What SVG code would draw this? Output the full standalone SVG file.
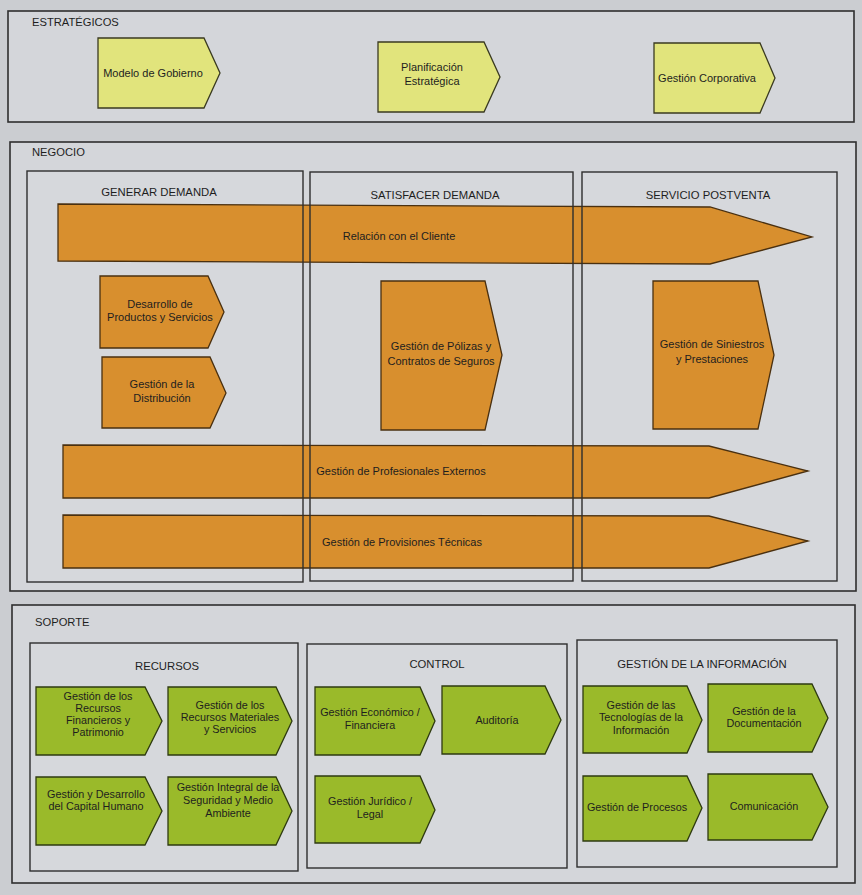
<svg xmlns="http://www.w3.org/2000/svg" width="862" height="895" viewBox="0 0 862 895">
  <style>
    .page { fill: #cbcdd1; }
    .frame { fill: #d4d6da; stroke: #2e2e2e; stroke-width: 1.6; }
    .lane { fill: none; stroke: #2e2e2e; stroke-width: 1.4; }
    .laneBg { fill: #d6d8dc; }
    .yellow { fill: #e1e47c; stroke: #3a3a20; stroke-width: 1.3; }
    .orange { fill: #d88f2e; stroke: #4a3010; stroke-width: 1.3; }
    .green { fill: #9aba2a; stroke: #2e3a10; stroke-width: 1.3; }
    text { font-family: "Liberation Sans", Arial, sans-serif; fill: #1e1e1e; }
    .sec { font-size: 11.2px; }
    .hdr { font-size: 11.3px; text-anchor: middle; }
    .lbl { font-size: 11px; text-anchor: middle; }
    .sm { font-size: 10.8px; text-anchor: middle; }
  </style>

  <rect class="page" x="0" y="0" width="862" height="895"/>

  <!-- Strategic layer -->
  <g id="estrategicos">
    <rect class="frame" x="8" y="11" width="846" height="111"/>
    <text class="sec" x="32" y="26">ESTRATÉGICOS</text>
  </g>
  <g id="modelo-gobierno">
    <polygon class="yellow" points="98,38 204,38 220,73 204,108 98,108"/>
    <text class="lbl" x="153" y="77">Modelo de Gobierno</text>
  </g>
  <g id="planificacion-estrategica">
    <polygon class="yellow" points="378,42 484,42 500,77 484,112 378,112"/>
    <text class="lbl" x="432" y="71">Planificación</text>
    <text class="lbl" x="432" y="85">Estratégica</text>
  </g>
  <g id="gestion-corporativa">
    <polygon class="yellow" points="654,43 760,43 775,78 760,113 654,113"/>
    <text class="lbl" x="707" y="82">Gestión Corporativa</text>
  </g>

  <!-- Business layer -->
  <g id="negocio">
    <rect class="frame" x="10" y="142" width="846" height="449"/>
    <text class="sec" x="32" y="156">NEGOCIO</text>
    <rect class="laneBg" x="27" y="171" width="276" height="411"/>
    <rect class="laneBg" x="310" y="172" width="263" height="409"/>
    <rect class="laneBg" x="582" y="172" width="255" height="409"/>
    <text class="hdr" x="159" y="196">GENERAR DEMANDA</text>
    <text class="hdr" x="435" y="199">SATISFACER DEMANDA</text>
    <text class="hdr" x="708" y="199">SERVICIO POSTVENTA</text>
  </g>

  <g id="relacion-cliente">
    <polygon class="orange" points="58,204 710,207 812,237 710,264 58,261"/>
    <text class="lbl" x="399" y="240">Relación con el Cliente</text>
  </g>
  <g id="desarrollo-productos">
    <polygon class="orange" points="100,276 208,276 224,312 208,348 100,348"/>
    <text class="lbl" x="160" y="308">Desarrollo de</text>
    <text class="lbl" x="160" y="321">Productos y Servicios</text>
  </g>
  <g id="gestion-distribucion">
    <polygon class="orange" points="102,357 210,357 226,393 210,428 102,428"/>
    <text class="lbl" x="162" y="388">Gestión de la</text>
    <text class="lbl" x="162" y="402">Distribución</text>
  </g>
  <g id="gestion-polizas">
    <polygon class="orange" points="381,281 485,281 502,355 485,430 381,430"/>
    <text class="lbl" x="441" y="350">Gestión de Pólizas y</text>
    <text class="lbl" x="441" y="365">Contratos de Seguros</text>
  </g>
  <g id="gestion-siniestros">
    <polygon class="orange" points="653,281 758,281 774,355 758,429 653,429"/>
    <text class="lbl" x="712" y="348">Gestión de Siniestros</text>
    <text class="lbl" x="712" y="363">y Prestaciones</text>
  </g>
  <g id="profesionales-externos">
    <polygon class="orange" points="63,445 709,446 808,471 709,498 63,498"/>
    <text class="lbl" x="401" y="475">Gestión de Profesionales Externos</text>
  </g>
  <g id="provisiones-tecnicas">
    <polygon class="orange" points="63,515 709,516 808,541 709,568 63,568"/>
    <text class="lbl" x="402" y="546">Gestión de Provisiones Técnicas</text>
  </g>

  <!-- Lane borders drawn over the long process arrows -->
  <g id="lanes">
    <rect class="lane" x="27" y="171" width="276" height="411"/>
    <rect class="lane" x="310" y="172" width="263" height="409"/>
    <rect class="lane" x="582" y="172" width="255" height="409"/>
  </g>

  <!-- Support layer -->
  <g id="soporte">
    <rect class="frame" x="12" y="605" width="843" height="278"/>
    <text class="sec" x="35" y="626">SOPORTE</text>
    <rect class="lane" x="30" y="643" width="268" height="228" style="fill:#d6d8dc"/>
    <rect class="lane" x="307" y="644" width="260" height="224" style="fill:#d6d8dc"/>
    <rect class="lane" x="577" y="640" width="260" height="227" style="fill:#d6d8dc"/>
    <text class="hdr" x="167" y="670">RECURSOS</text>
    <text class="hdr" x="437" y="668">CONTROL</text>
    <text class="hdr" x="702" y="668">GESTIÓN DE LA INFORMACIÓN</text>
  </g>

  <g id="recursos-financieros">
    <polygon class="green" points="36,687 145,687 162,721 145,755 36,755"/>
    <text class="sm" x="98" y="700">Gestión de los</text>
    <text class="sm" x="98" y="712">Recursos</text>
    <text class="sm" x="98" y="724">Financieros y</text>
    <text class="sm" x="98" y="736">Patrimonio</text>
  </g>
  <g id="recursos-materiales">
    <polygon class="green" points="168,687 276,687 292,721 276,755 168,755"/>
    <text class="sm" x="230" y="709">Gestión de los</text>
    <text class="sm" x="230" y="721">Recursos Materiales</text>
    <text class="sm" x="230" y="733">y Servicios</text>
  </g>
  <g id="capital-humano">
    <polygon class="green" points="36,777 145,777 162,811 145,845 36,845"/>
    <text class="sm" x="96" y="798">Gestión y Desarrollo</text>
    <text class="sm" x="96" y="810">del Capital Humano</text>
  </g>
  <g id="seguridad-medio-ambiente">
    <polygon class="green" points="168,777 276,777 292,811 276,845 168,845"/>
    <text class="sm" x="228" y="791">Gestión Integral de la</text>
    <text class="sm" x="228" y="804">Seguridad y Medio</text>
    <text class="sm" x="228" y="817">Ambiente</text>
  </g>
  <g id="economico-financiera">
    <polygon class="green" points="315,687 420,687 435,721 420,755 315,755"/>
    <text class="sm" x="370" y="716">Gestión Económico /</text>
    <text class="sm" x="370" y="729">Financiera</text>
  </g>
  <g id="auditoria">
    <polygon class="green" points="442,686 545,686 561,720 545,754 442,754"/>
    <text class="sm" x="497" y="724">Auditoría</text>
  </g>
  <g id="juridico-legal">
    <polygon class="green" points="315,776 420,776 435,810 420,843 315,843"/>
    <text class="sm" x="370" y="805">Gestión Jurídico /</text>
    <text class="sm" x="370" y="818">Legal</text>
  </g>
  <g id="tecnologias-informacion">
    <polygon class="green" points="583,686 687,686 702,720 687,753 583,753"/>
    <text class="sm" x="641" y="709">Gestión de las</text>
    <text class="sm" x="641" y="721">Tecnologías de la</text>
    <text class="sm" x="641" y="734">Información</text>
  </g>
  <g id="gestion-documentacion">
    <polygon class="green" points="708,684 812,684 828,718 812,752 708,752"/>
    <text class="sm" x="764" y="715">Gestión de la</text>
    <text class="sm" x="764" y="727">Documentación</text>
  </g>
  <g id="gestion-procesos">
    <polygon class="green" points="583,776 687,776 702,808 687,841 583,841"/>
    <text class="sm" x="637" y="811">Gestión de Procesos</text>
  </g>
  <g id="comunicacion">
    <polygon class="green" points="708,774 812,774 828,807 812,840 708,840"/>
    <text class="sm" x="764" y="810">Comunicación</text>
  </g>
</svg>
